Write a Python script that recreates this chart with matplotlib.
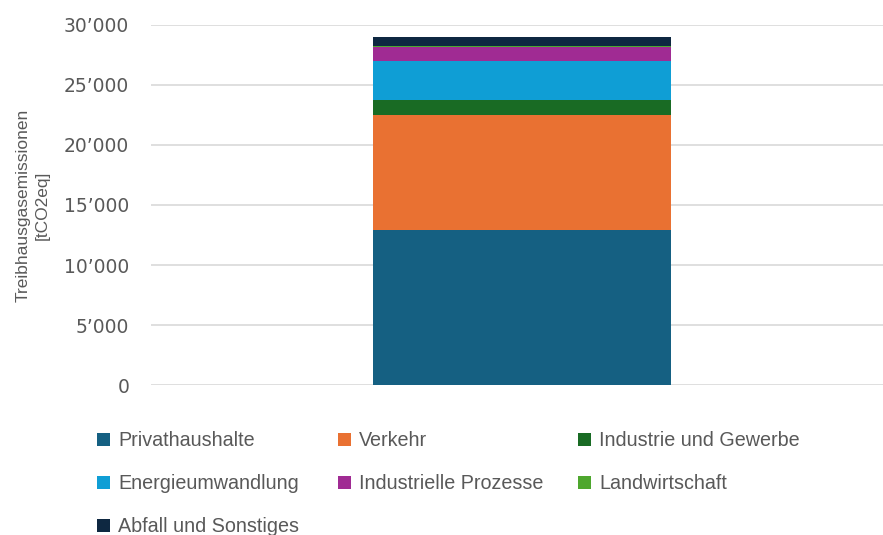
import matplotlib
matplotlib.use("Agg")
import matplotlib.pyplot as plt
from matplotlib.patches import Rectangle
from matplotlib.ticker import FuncFormatter, MultipleLocator

# Emissions by sector [tCO2eq], stacked bottom to top
sectors = [
    "Privathaushalte",
    "Verkehr",
    "Industrie und Gewerbe",
    "Energieumwandlung",
    "Industrielle Prozesse",
    "Landwirtschaft",
    "Abfall und Sonstiges",
]
values = [12900, 9550, 1280, 3240, 1160, 100, 730]
colors = ["#156082", "#E97132", "#196B24", "#0F9ED5", "#A02B93", "#4EA72E", "#0E2841"]

y_max = 30000
y_step = 5000

TEXT = "#595959"
GRID = "#D9D9D9"

W, H = 883, 535
fig = plt.figure(figsize=(W / 100, H / 100), dpi=100)
ax = fig.add_axes([150.7 / W, 1 - 385.3 / H, (W - 150.7) / W, (385.3 - 24.7) / H])

bottom = 0
for value, color in zip(values, colors):
    ax.bar(0, value, width=0.407, bottom=bottom, color=color, zorder=3)
    bottom += value

ax.set_xlim(-0.507, 0.493)
ax.set_ylim(0, y_max)
ax.yaxis.set_major_locator(MultipleLocator(y_step))
ax.yaxis.set_major_formatter(
    FuncFormatter(lambda v, pos: f"{int(v):,}".replace(",", "\u2019"))
)
ax.grid(axis="y", color=GRID, linewidth=1.2, zorder=0)
ax.set_xticks([])
ax.tick_params(axis="y", length=0, pad=15.4, labelsize=13.5, labelcolor=TEXT)
for spine in ax.spines.values():
    spine.set_visible(False)

fig.text(
    33 / W, 1 - 205 / H,
    "Treibhausgasemissionen\n[tCO2eq]",
    rotation=90, ha="center", va="center", multialignment="center",
    fontsize=12.5, color=TEXT, family="Liberation Sans", linespacing=1.35,
)

# legend laid out in rows of three, like the source
for i, (label, color) in enumerate(zip(sectors, colors)):
    row, col = divmod(i, 3)
    x = 97.3 + 240.5 * col
    y = 439 + 43 * row
    fig.add_artist(Rectangle(
        (x / W, 1 - (y + 6.5) / H), 13 / W, 13 / H,
        transform=fig.transFigure, facecolor=color, edgecolor="none",
    ))
    fig.text(
        (x + 21) / W, 1 - (y + 7) / H, label,
        ha="left", va="baseline", fontsize=14.2, color=TEXT,
        family="Liberation Sans",
    )

fig.savefig("out.png", dpi=100)
